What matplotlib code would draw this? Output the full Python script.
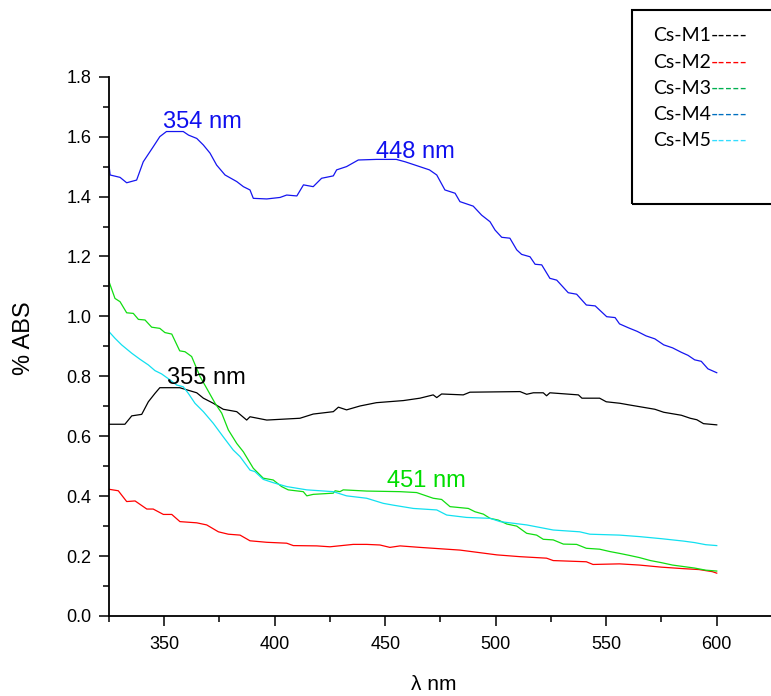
import matplotlib
matplotlib.use("Agg")
import matplotlib.pyplot as plt
from matplotlib.patches import Rectangle
from matplotlib.ticker import MultipleLocator, FormatStrFormatter

plt.rcParams['font.family'] = ['Liberation Sans', 'DejaVu Sans']

# ---------------- data ----------------
m4_x = [325, 325.5, 330, 333, 337.5, 340.5, 345, 348, 351, 358.6, 361, 364.7, 367.7, 370.7,
        373.7, 377.5, 382.8, 385.8, 388.8, 390.3, 396.4, 402.4, 405.4, 410, 413, 417.4,
        421.2, 426.5, 428, 432.5, 437.8, 446, 455, 459, 463.5, 470, 473.3, 477, 481.6,
        483.8, 489.8, 493.6, 497.4, 499.7, 502.7, 506.4, 509.5, 511.7, 515.5, 517.8,
        520.8, 524.5, 527.6, 532.8, 536.6, 541, 545, 550.2, 554, 556, 560, 564, 568,
        572, 576, 580, 584, 587, 590, 593, 596, 600]
m4_y = [1.505, 1.472, 1.464, 1.446, 1.455, 1.516, 1.566, 1.600, 1.617, 1.617, 1.605, 1.594,
        1.572, 1.545, 1.505, 1.472, 1.450, 1.433, 1.422, 1.394, 1.392, 1.397, 1.405, 1.402,
        1.439, 1.433, 1.461, 1.469, 1.489, 1.500, 1.522, 1.524, 1.524, 1.516, 1.505, 1.489,
        1.472, 1.422, 1.411, 1.383, 1.368, 1.338, 1.316, 1.288, 1.264, 1.261, 1.222, 1.207,
        1.199, 1.174, 1.172, 1.127, 1.121, 1.079, 1.074, 1.038, 1.035, 0.999, 0.996, 0.975,
        0.962, 0.950, 0.935, 0.925, 0.905, 0.895, 0.880, 0.870, 0.855, 0.850, 0.825, 0.812]

m1_x = [325, 332.2, 335.3, 339.8, 342.8, 345.8, 348, 357, 364.7, 367.7, 372.2, 376.7, 382.8,
        387.3, 388.8, 396.4, 411.4, 417.4, 426.5, 428.8, 432.5, 438.6, 446, 458.2, 465.7,
        471.7, 473.3, 475.5, 485.3, 488.3, 511, 514, 517, 521.5, 523, 524.5, 537.4, 539,
        547, 550, 556.2, 560, 564, 568, 572, 576, 580, 584, 588, 591, 594, 597, 600]
m1_y = [0.640, 0.640, 0.668, 0.673, 0.715, 0.743, 0.762, 0.762, 0.745, 0.727, 0.710, 0.690,
        0.682, 0.654, 0.665, 0.654, 0.660, 0.674, 0.682, 0.697, 0.688, 0.701, 0.712, 0.719,
        0.727, 0.738, 0.729, 0.741, 0.738, 0.747, 0.749, 0.740, 0.745, 0.745, 0.735, 0.745,
        0.738, 0.727, 0.727, 0.715, 0.710, 0.705, 0.700, 0.695, 0.690, 0.680, 0.675, 0.670,
        0.660, 0.655, 0.642, 0.640, 0.638]

m3_x = [325, 327.7, 330, 333, 336, 338.3, 341.3, 344.3, 348, 350.3, 353.4, 357, 359.4, 362.4,
        366.2, 369.2, 373, 376, 379, 382.8, 385.8, 390.3, 394.8, 399.3, 403.1, 406.1, 412.9,
        414.5, 417.4, 426.5, 427.3, 429.5, 431, 441.6, 456.7, 464.2, 471.7, 475.5, 479.3,
        487.6, 490.6, 494.4, 497.4, 501.2, 505, 509.5, 514, 518.5, 521.5, 526, 530.6,
        536.6, 541, 547, 551.7, 556, 560, 565, 570, 575, 580, 585, 590, 595, 600]
m3_y = [1.116, 1.060, 1.049, 1.012, 1.010, 0.990, 0.988, 0.964, 0.960, 0.946, 0.941, 0.885,
        0.882, 0.866, 0.799, 0.760, 0.710, 0.677, 0.621, 0.576, 0.548, 0.493, 0.460, 0.454,
        0.432, 0.421, 0.415, 0.401, 0.406, 0.410, 0.418, 0.415, 0.421, 0.417, 0.415, 0.412,
        0.393, 0.389, 0.365, 0.359, 0.348, 0.340, 0.326, 0.320, 0.307, 0.300, 0.276, 0.270,
        0.256, 0.254, 0.240, 0.239, 0.226, 0.223, 0.215, 0.209, 0.203, 0.195, 0.185, 0.178,
        0.170, 0.165, 0.160, 0.153, 0.150]

m5_x = [325, 327.7, 330.7, 335.3, 339, 342.8, 345.8, 348.8, 352.6, 355.6, 358.6, 360.9, 363.9,
        367.7, 372.2, 376.7, 381.2, 384.3, 388.8, 391, 394.8, 399.3, 405.4, 414.5, 426.5,
        432.5, 441.6, 449.1, 453.6, 462.7, 473.3, 477.8, 486.8, 497.4, 502, 514, 526, 538,
        542.6, 556, 565, 575, 585, 590, 595, 600]
m5_y = [0.949, 0.927, 0.905, 0.877, 0.857, 0.838, 0.819, 0.808, 0.788, 0.771, 0.765, 0.743,
        0.710, 0.682, 0.643, 0.598, 0.554, 0.532, 0.487, 0.482, 0.456, 0.445, 0.432, 0.421,
        0.415, 0.401, 0.393, 0.376, 0.370, 0.359, 0.354, 0.337, 0.329, 0.326, 0.315, 0.304,
        0.287, 0.281, 0.273, 0.270, 0.265, 0.258, 0.250, 0.245, 0.238, 0.235]

m2_x = [325, 329.2, 333, 336.8, 342.1, 345, 349.6, 353.4, 357.1, 364.7, 369.2, 374.5, 379,
        384.3, 388.8, 396.4, 405.4, 408.4, 419, 425, 435.5, 441.6, 447.6, 452.1, 456.7,
        465.7, 483.8, 500.5, 511, 523, 526, 541, 544, 556, 565, 575, 585, 592, 598, 600]
m2_y = [0.423, 0.418, 0.382, 0.384, 0.357, 0.357, 0.339, 0.339, 0.315, 0.311, 0.304, 0.281,
        0.273, 0.270, 0.251, 0.246, 0.243, 0.235, 0.234, 0.231, 0.239, 0.239, 0.237, 0.229,
        0.234, 0.229, 0.220, 0.204, 0.198, 0.193, 0.185, 0.181, 0.172, 0.174, 0.170, 0.163,
        0.158, 0.155, 0.148, 0.143]

x_ticks = [350, 400, 450, 500, 550, 600]
x_tick_labels = ['350', '400', '450', '500', '550', '600']

legend_names = ['Cs-M1', 'Cs-M2', 'Cs-M3', 'Cs-M4', 'Cs-M5']
legend_dash_colors = ['#000000', '#ff0000', '#00b050', '#0070c0', '#33ddff']

peak_labels = ['354 nm', '448 nm', '355 nm', '451 nm']
peak_pos = [(349.4, 1.630), (446.0, 1.530), (351.1, 0.773), (451.0, 0.429)]
peak_colors = ['#1010ee', '#1010ee', '#000000', '#00dd00']

# ---------------- figure ----------------
W, H = 771, 696
fig = plt.figure(figsize=(W / 100, H / 100), dpi=100)
ax = fig.add_axes([109 / W, (H - 616) / H, (772 - 109) / W, (616 - 76.7) / H])

lw = 0.9
ax.plot(m1_x, m1_y, color='#000000', lw=lw)
ax.plot(m2_x, m2_y, color='#ff0000', lw=lw)
ax.plot(m3_x, m3_y, color='#11dd11', lw=lw)
ax.plot(m5_x, m5_y, color='#11e0f0', lw=lw)
ax.plot(m4_x, m4_y, color='#1515f0', lw=lw)

for lab, (px, py), c in zip(peak_labels, peak_pos, peak_colors):
    ax.text(px, py, lab, color=c, fontsize=17, ha='left', va='baseline')

ax.set_xlim(325, 625)
ax.set_ylim(0, 1.8)
ax.set_xticks(x_ticks)
ax.set_xticklabels(x_tick_labels)
ax.xaxis.set_minor_locator(MultipleLocator(25))
ax.yaxis.set_major_locator(MultipleLocator(0.2))
ax.yaxis.set_minor_locator(MultipleLocator(0.1))
ax.yaxis.set_major_formatter(FormatStrFormatter('%.1f'))

for s in ['top', 'right']:
    ax.spines[s].set_visible(False)
for s in ['left', 'bottom']:
    ax.spines[s].set_linewidth(1.3)
ax.tick_params(which='major', length=7.5, width=1.1, labelsize=13, pad=5, direction='out')
ax.tick_params(which='minor', length=4, width=1.1, direction='out')
ax.tick_params(axis='x', which='major', pad=7)

fig.text(434 / W, 1 - 684 / H, 'λ nm', fontsize=15, ha='center', va='center')
fig.text(24 / W, 1 - 338 / H, '% ABS', fontsize=17, ha='center', va='center', rotation=90)

# legend box (extends past the right edge)
fig.patches.append(Rectangle((632 / W, 1 - 204 / H), 200 / W, 194 / H, transform=fig.transFigure,
                             fill=False, edgecolor='black', lw=1.5, figure=fig))
baselines = [41, 67.5, 94, 120, 146]
for name, dc, b in zip(legend_names, legend_dash_colors, baselines):
    t = fig.text(653 / W, 1 - b / H, name, fontsize=14, family=['Lato', 'DejaVu Sans'],
                 ha='left', va='baseline')
    ax.annotate('-----', xy=(1, 0), xycoords=t, xytext=(0, 0), textcoords='offset points',
                fontsize=14, family=['Lato', 'DejaVu Sans'], color=dc, ha='left', va='bottom',
                annotation_clip=False)

fig.savefig('out.png', dpi=100)
